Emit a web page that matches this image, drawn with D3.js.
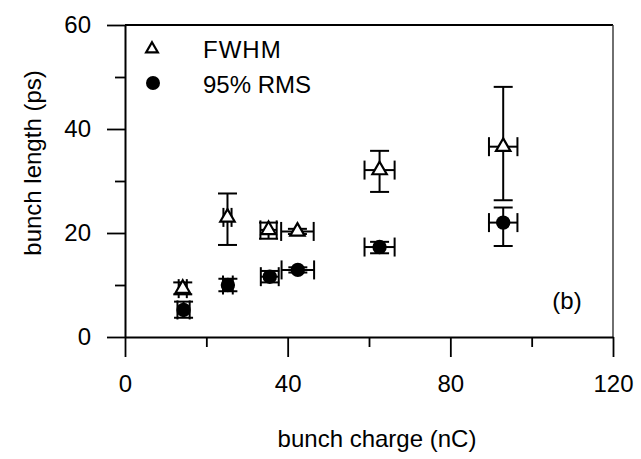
<!DOCTYPE html>
<html>
<head>
<meta charset="utf-8">
<script src="https://cdn.jsdelivr.net/npm/d3@7"></script>
<style>
  html, body { margin: 0; padding: 0; background: #fff; }
  svg { display: block; }
  text { font-family: "Liberation Sans", Arial, Helvetica, sans-serif; fill: #000; }
</style>
</head>
<body>
<svg id="chart" width="641" height="459"></svg>
<script>
// ---- data ----
const fwhmCharge    = [14.2, 25.2, 35.3, 42.4, 62.6, 93.0];
const fwhmLength    = [9.3, 23.0, 20.6, 20.3, 32.1, 36.6];
const fwhmChargeErr = [1.0, 1.0, 2.0, 4.0, 3.7, 3.5];
const fwhmLengthLo  = [8.2, 17.7, 18.9, 19.8, 27.9, 26.3];
const fwhmLengthHi  = [10.5, 27.6, 22.0, 20.8, 35.8, 48.1];

const rmsCharge     = [14.4, 25.3, 35.6, 42.5, 62.6, 93.0];
const rmsLength     = [5.2, 10.0, 11.6, 12.9, 17.3, 22.0];
const rmsChargeErr  = [1.5, 1.2, 2.2, 4.0, 3.7, 3.5];
const rmsLengthLo   = [3.7, 8.8, 10.5, 12.4, 16.1, 17.5];
const rmsLengthHi   = [6.8, 11.2, 12.7, 13.4, 18.3, 24.9];

const xMajorTicks = [0, 40, 80, 120];
const xMinorTicks = [20, 60, 100];
const yMajorTicks = [0, 20, 40, 60];
const yMinorTicks = [10, 30, 50];

const seriesNames = ["FWHM", "95% RMS"];
const xTitle = "bunch charge (nC)";
const yTitle = "bunch length (ps)";
const panelLabel = "(b)";

// ---- layout ----
const L = 125, R = 613, T = 25, B = 337;
const svg = d3.select("#chart");
const x = d3.scaleLinear().domain([0, 120]).range([L, R]);
const y = d3.scaleLinear().domain([0, 60]).range([B, T]);

// frame (top and right)
svg.append("line").attr("x1", L).attr("x2", R).attr("y1", T).attr("y2", T)
  .attr("stroke", "#000").attr("stroke-width", 1.8);
svg.append("line").attr("x1", R).attr("x2", R).attr("y1", T).attr("y2", B)
  .attr("stroke", "#333").attr("stroke-width", 1.4);

// x axis
const gx = svg.append("g").attr("transform", `translate(0,${B})`);
gx.call(d3.axisBottom(x).tickValues(xMajorTicks).tickSize(20).tickSizeOuter(0).tickPadding(18));
const gx2 = svg.append("g").attr("transform", `translate(0,${B})`);
gx2.call(d3.axisBottom(x).tickValues(xMinorTicks).tickSize(10).tickSizeOuter(0).tickFormat(""));
gx2.select(".domain").remove();

// y axis
const gy = svg.append("g").attr("transform", `translate(${L},0)`);
gy.call(d3.axisLeft(y).tickValues(yMajorTicks).tickSize(18).tickSizeOuter(0).tickPadding(16));
const gy2 = svg.append("g").attr("transform", `translate(${L},0)`);
gy2.call(d3.axisLeft(y).tickValues(yMinorTicks).tickSize(10).tickSizeOuter(0).tickFormat(""));
gy2.select(".domain").remove();

svg.selectAll(".domain").attr("stroke", "#000").attr("stroke-width", 2);
svg.selectAll(".tick line").attr("stroke", "#000").attr("stroke-width", 1.8);
svg.selectAll(".tick text").attr("font-size", 24).attr("font-family", "'Liberation Sans', Arial, sans-serif").attr("fill", "#000");

// axis titles
svg.append("text").attr("x", (L + R) / 2 + 8).attr("y", 447)
  .attr("text-anchor", "middle").attr("font-size", 24).text(xTitle);
svg.append("text").attr("transform", `translate(41,163) rotate(-90)`)
  .attr("text-anchor", "middle").attr("font-size", 24).text(yTitle);

// panel label
svg.append("text").attr("x", 567).attr("y", 309).attr("text-anchor", "middle")
  .attr("font-size", 24).text(panelLabel);

// ---- error bars ----
function errorBars(cx, cy, xe, lo, hi) {
  const g = svg.append("g").attr("stroke", "#000").attr("stroke-width", 2).attr("fill", "none");
  const cap = 9.5;
  cx.forEach((d, i) => {
    const px = x(d), py = y(cy[i]);
    // vertical
    g.append("line").attr("x1", px).attr("x2", px).attr("y1", y(lo[i])).attr("y2", y(hi[i]));
    g.append("line").attr("x1", px - cap).attr("x2", px + cap).attr("y1", y(lo[i])).attr("y2", y(lo[i]));
    g.append("line").attr("x1", px - cap).attr("x2", px + cap).attr("y1", y(hi[i])).attr("y2", y(hi[i]));
    // horizontal
    const xl = x(d - xe[i]), xr = x(d + xe[i]);
    g.append("line").attr("x1", xl).attr("x2", xr).attr("y1", py).attr("y2", py);
    g.append("line").attr("x1", xl).attr("x2", xl).attr("y1", py - cap).attr("y2", py + cap);
    g.append("line").attr("x1", xr).attr("x2", xr).attr("y1", py - cap).attr("y2", py + cap);
  });
}
errorBars(fwhmCharge, fwhmLength, fwhmChargeErr, fwhmLengthLo, fwhmLengthHi);
errorBars(rmsCharge, rmsLength, rmsChargeErr, rmsLengthLo, rmsLengthHi);

// ---- markers ----
const tri = d3.symbol().type(d3.symbolTriangle).size(90);
svg.append("g").selectAll("path").data(fwhmCharge).join("path")
  .attr("d", tri)
  .attr("transform", (d, i) => `translate(${x(d)},${y(fwhmLength[i])})`)
  .attr("fill", "#fff").attr("stroke", "#000").attr("stroke-width", 2.2);

svg.append("g").selectAll("circle").data(rmsCharge).join("circle")
  .attr("cx", d => x(d)).attr("cy", (d, i) => y(rmsLength[i]))
  .attr("r", 7.2).attr("fill", "#000");

// ---- legend ----
const lg = svg.append("g");
lg.append("path").attr("d", d3.symbol().type(d3.symbolTriangle).size(60))
  .attr("transform", "translate(152,49)")
  .attr("fill", "#fff").attr("stroke", "#000").attr("stroke-width", 2.2);
lg.append("circle").attr("cx", 153).attr("cy", 83).attr("r", 7).attr("fill", "#000");
lg.append("text").attr("x", 203).attr("y", 58).attr("font-size", 24)
  .attr("letter-spacing", 1).text(seriesNames[0]);
lg.append("text").attr("x", 203).attr("y", 93).attr("font-size", 24).text(seriesNames[1]);
</script>
</body>
</html>
